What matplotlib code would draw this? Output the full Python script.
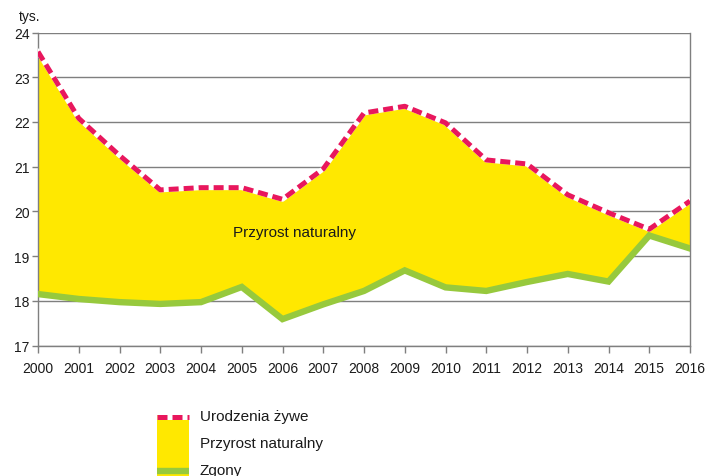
import matplotlib
matplotlib.use("Agg")
import matplotlib.pyplot as plt
from matplotlib.lines import Line2D
from matplotlib.patches import Rectangle

plt.rcParams['font.family'] = ['Liberation Sans', 'DejaVu Sans']

years = list(range(2000, 2017))
births = [23.57, 22.08, 21.25, 20.48, 20.53, 20.53, 20.27, 20.95, 22.2, 22.35,
          21.98, 21.15, 21.06, 20.37, 19.97, 19.6, 20.23]
deaths = [18.15, 18.04, 17.97, 17.93, 17.97, 18.31, 17.59, 17.92, 18.22, 18.68,
          18.3, 18.22, 18.42, 18.6, 18.43, 19.46, 19.17]
yticks = [17, 18, 19, 20, 21, 22, 23, 24]

RED = '#E8175D'
YEL = '#FFE800'
GRN = '#97C93D'
GRID = '#7F7F7F'
TXT = '#1a1a1a'

fig = plt.figure(figsize=(7.07, 4.77), dpi=100)
ax = fig.add_axes([38/707, 1-346.5/477, (690-38)/707, (346.5-33.5)/477])

ax.set_xlim(2000, 2016)
ax.set_ylim(17, 24)

ax.fill_between(years, deaths, births, color=YEL, lw=0, zorder=2)
ax.plot(years, deaths, color=GRN, lw=4.6, solid_joinstyle='miter', zorder=3)
ax.plot(years, births, color='white', lw=3.6, zorder=3)
ax.plot(years, births, color=RED, lw=3.6, dashes=(2.0, 1.0), zorder=4)

ax.set_yticks(yticks)
ax.set_xticks(years)
ax.set_xticklabels([str(y) for y in years])
ax.yaxis.grid(True, color=GRID, lw=1.0, zorder=1)
ax.set_axisbelow(True)
ax.spines['top'].set_visible(False)
for s in ['left', 'right', 'bottom']:
    ax.spines[s].set_color(GRID)
    ax.spines[s].set_linewidth(1.0)
ax.tick_params(axis='both', colors=GRID, labelcolor=TXT, labelsize=10,
               length=5, width=1.0, direction='out')
ax.tick_params(axis='x', pad=6)
ax.tick_params(axis='y', pad=2, length=4)

ax.text(2006.3, 19.54, 'Przyrost naturalny', ha='center', va='center',
        fontsize=11, color=TXT, zorder=5)
fig.text(30/707, 1-17/477, 'tys.', ha='center', va='center', fontsize=10,
         color=TXT)

# legend
fig.patches.append(Rectangle((157/707, 0), (189-157)/707, 1-416/477,
                             transform=fig.transFigure, color=YEL, lw=0))
fig.lines.append(Line2D([157/707, 189/707], [1-417.5/477]*2, transform=fig.transFigure,
                        color='white', lw=3.6, solid_capstyle='butt'))
fig.lines.append(Line2D([157/707, 189/707], [1-417.5/477]*2, transform=fig.transFigure,
                        color=RED, lw=3.6, dashes=(2.0, 1.0), dash_capstyle='butt'))
fig.lines.append(Line2D([157/707, 189/707], [1-472/477]*2, transform=fig.transFigure,
                        color=GRN, lw=4.6, solid_capstyle='butt'))
for label, yy in [('Urodzenia żywe', 417), ('Przyrost naturalny', 444), ('Zgony', 471)]:
    fig.text(200/707, 1-yy/477, label, ha='left', va='center', fontsize=11,
             color=TXT)

fig.savefig('out.png', dpi=100)
